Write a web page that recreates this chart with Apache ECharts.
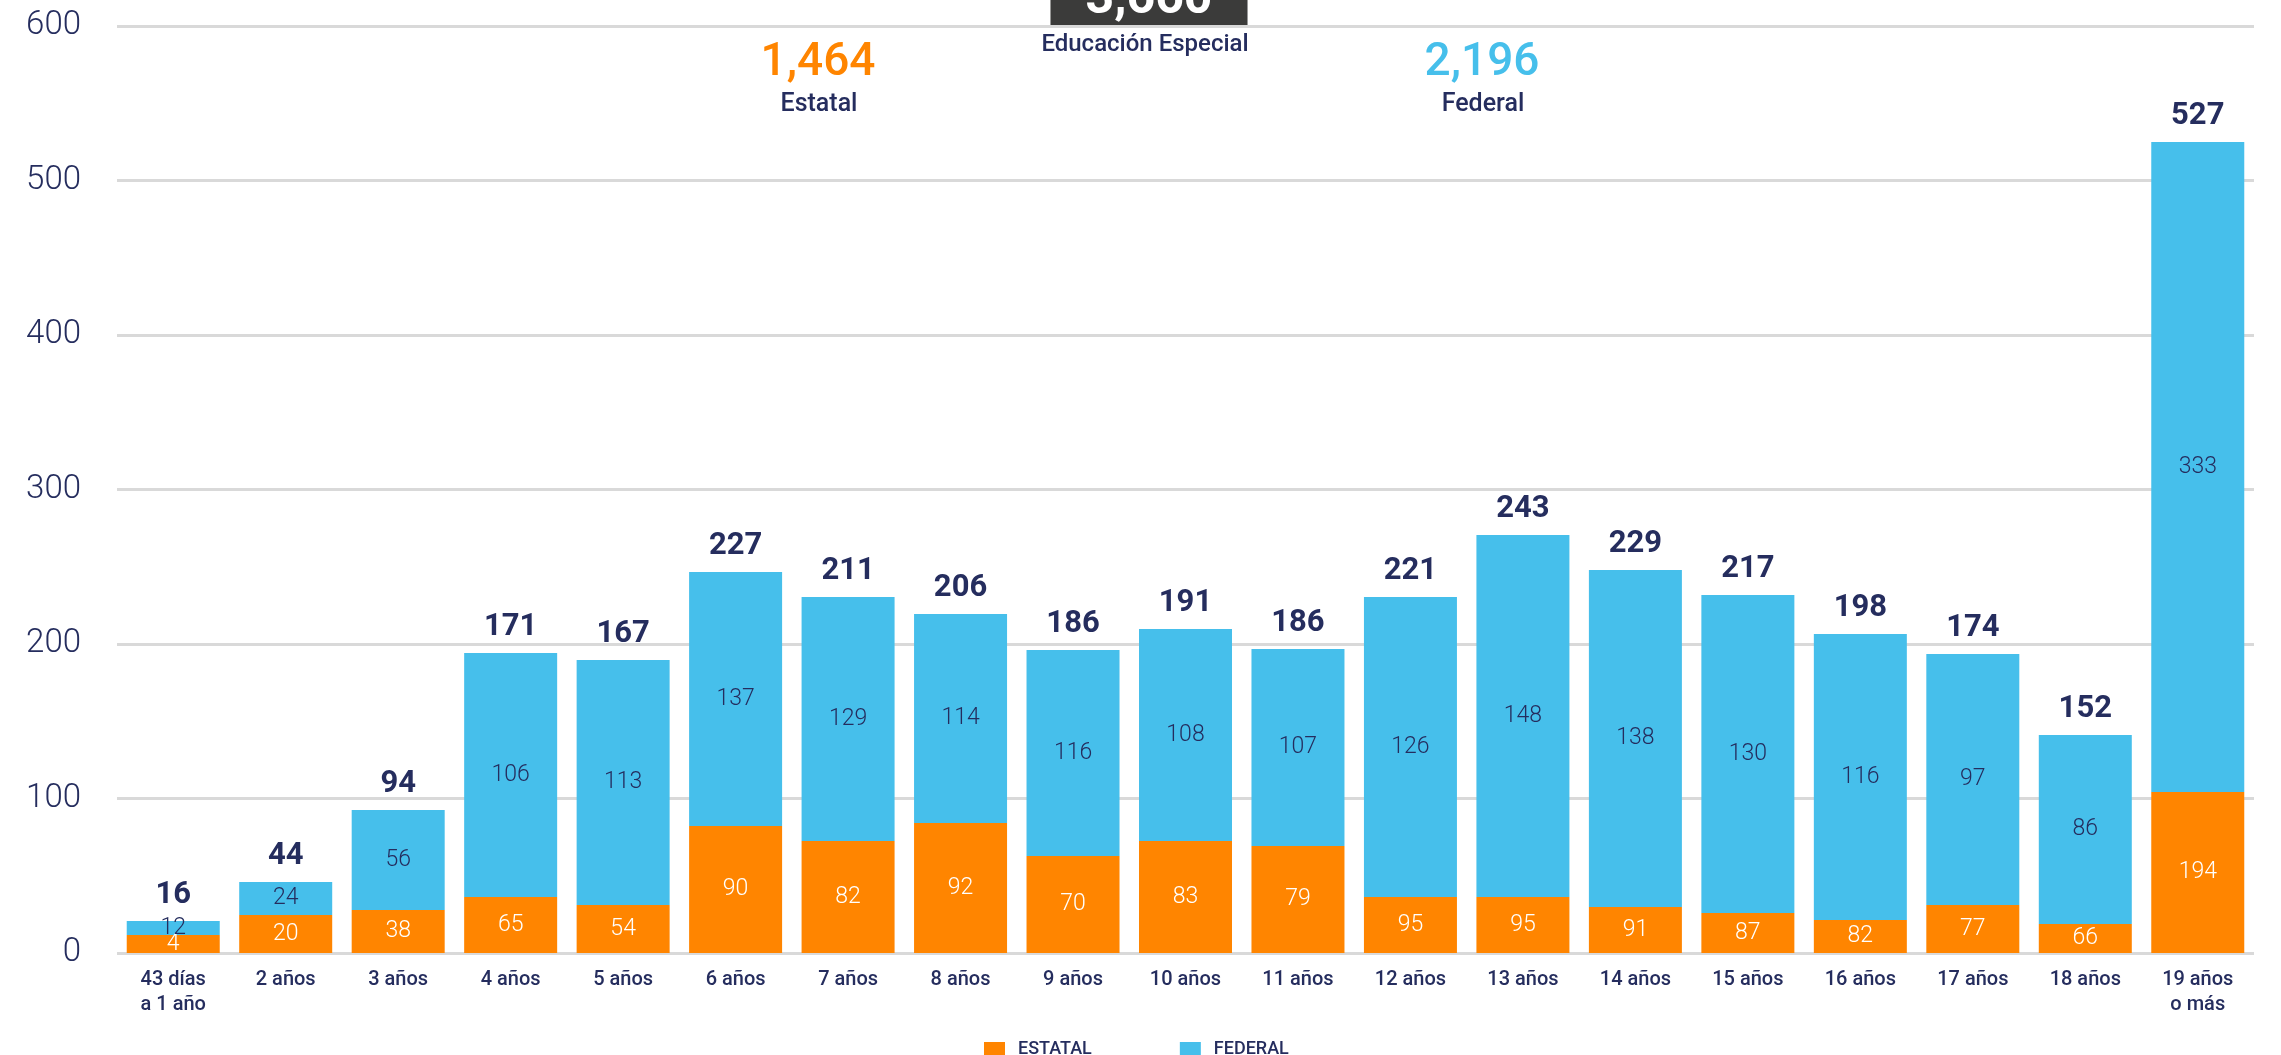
<!DOCTYPE html>
<html>
<head>
<meta charset="utf-8">
<style>
  html, body { margin: 0; padding: 0; background: #fff; }
  #main { width: 2281px; height: 1055px; }
</style>
<script src="https://cdn.jsdelivr.net/npm/echarts@6/dist/echarts.min.js"></script>
</head>
<body>
<div id="main"></div>
<script>
var categories = ['43 días\na 1 año', '2 años', '3 años', '4 años', '5 años', '6 años', '7 años',
  '8 años', '9 años', '10 años', '11 años', '12 años', '13 años', '14 años', '15 años',
  '16 años', '17 años', '18 años', '19 años\no más'];

// printed numbers
var estatal = [4, 20, 38, 65, 54, 90, 82, 92, 70, 83, 79, 95, 95, 91, 87, 82, 77, 66, 194];
var federal = [12, 24, 56, 106, 113, 137, 129, 114, 116, 108, 107, 126, 148, 138, 130, 116, 97, 86, 333];
var totals = [16, 44, 94, 171, 167, 227, 211, 206, 186, 191, 186, 221, 243, 229, 217, 198, 174, 152, 527];

// segment heights as drawn in the picture (read against the y axis)
var estatalDrawn = [11.7, 24.6, 27.8, 36.2, 31.1, 82.2, 72.5, 84.1, 62.8, 72.5, 69.3, 36.2, 36.2, 29.8, 25.9, 21.4, 31.1, 18.8, 104.2];
var federalDrawn = [9.0, 21.4, 64.8, 158.0, 158.5, 164.4, 157.9, 135.3, 133.3, 137.2, 127.5, 194.2, 234.4, 218.1, 205.8, 185.1, 162.4, 122.3, 420.7];

var yTicks = [0, 100, 200, 300, 400, 500, 600];

var NAVY = '#252d5e';
var ORANGE = '#ff8500';
var BLUE = '#46bfeb';

var chart = echarts.init(document.getElementById('main'));

var topDrawn = estatalDrawn.map(function (v, i) { return v + federalDrawn[i]; });

chart.setOption({
  animation: false,
  backgroundColor: '#fff',
  graphic: [
    {
      type: 'text', x: 1149, y: 25, z: 10,
      style: {
        text: '3,660', fill: '#fff', font: 'bold 50px Roboto',
        backgroundColor: '#3b3b3a', padding: [0, 35, 0, 35],
        align: 'center', verticalAlign: 'bottom',
        boxShadowBlur: 10, boxShadowColor: 'rgba(0,0,0,0.55)'
      }
    },
    {
      type: 'text', x: 1145, y: 45,
      style: { text: 'Educación Especial', fill: NAVY, font: '500 24px Roboto', align: 'center', verticalAlign: 'middle' }
    },
    {
      type: 'text', x: 818, y: 63,
      style: { text: '1,464', fill: ORANGE, font: '500 46px Roboto', align: 'center', verticalAlign: 'middle' }
    },
    {
      type: 'text', x: 819, y: 105,
      style: { text: 'Estatal', fill: NAVY, font: '500 25px Roboto', align: 'center', verticalAlign: 'middle' }
    },
    {
      type: 'text', x: 1482, y: 63,
      style: { text: '2,196', fill: BLUE, font: '500 46px Roboto', align: 'center', verticalAlign: 'middle' }
    },
    {
      type: 'text', x: 1483, y: 105,
      style: { text: 'Federal', fill: NAVY, font: '500 25px Roboto', align: 'center', verticalAlign: 'middle' }
    }
  ],
  legend: {
    data: ['ESTATAL', 'FEDERAL'],
    left: 979,
    top: 1035,
    itemWidth: 21,
    itemHeight: 14,
    itemGap: 88,
    icon: 'rect',
    textStyle: { color: NAVY, fontSize: 18, fontFamily: 'Roboto', fontWeight: 500, padding: [0, 0, 0, 8] }
  },
  grid: { left: 117, right: 27, top: 26, bottom: 102, containLabel: false, outerBoundsMode: 'none' },
  xAxis: {
    type: 'category',
    data: categories,
    axisLine: { show: false },
    axisTick: { show: false },
    axisLabel: { color: NAVY, fontSize: 20, fontFamily: 'Roboto', fontWeight: 500, lineHeight: 25, margin: 14, interval: 0 }
  },
  yAxis: {
    type: 'value',
    min: yTicks[0],
    max: yTicks[yTicks.length - 1],
    interval: 100,
    axisLine: { show: false },
    axisTick: { show: false },
    axisLabel: { color: NAVY, fontSize: 33, fontFamily: 'Roboto', fontWeight: 300, margin: 36 },
    splitLine: { lineStyle: { color: '#d9d9d9', width: 3 } }
  },
  series: [
    {
      name: 'ESTATAL',
      type: 'bar',
      stack: 'total',
      barWidth: 93,
      itemStyle: { color: ORANGE },
      data: estatalDrawn,
      label: {
        show: true, position: 'inside', color: '#fff',
        fontSize: 23, fontFamily: 'Roboto', fontWeight: 300,
        formatter: function (p) { return estatal[p.dataIndex]; }
      }
    },
    {
      name: 'FEDERAL',
      type: 'bar',
      stack: 'total',
      barWidth: 93,
      itemStyle: { color: BLUE },
      data: federalDrawn,
      label: {
        show: true, position: 'inside', color: NAVY,
        fontSize: 23, fontFamily: 'Roboto', fontWeight: 300,
        formatter: function (p) { return federal[p.dataIndex]; }
      }
    },
    {
      name: 'total',
      type: 'scatter',
      symbolSize: 0,
      data: topDrawn,
      silent: true,
      itemStyle: { opacity: 1 },
      label: {
        show: true, position: 'top', distance: 10, color: NAVY,
        fontSize: 31, fontWeight: 'bold', fontFamily: 'Roboto',
        formatter: function (p) { return totals[p.dataIndex]; }
      }
    }
  ]
});
</script>
</body>
</html>
